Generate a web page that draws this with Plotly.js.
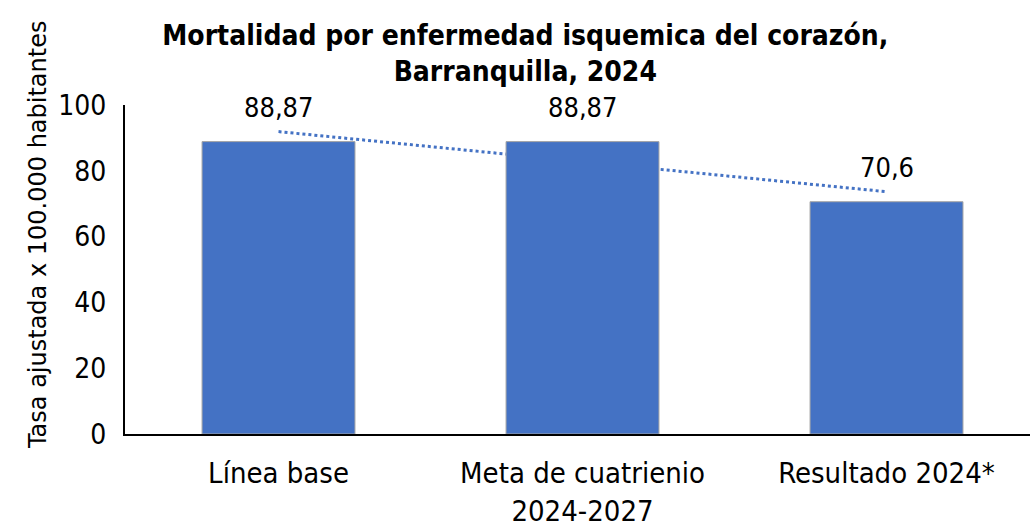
<!DOCTYPE html>
<html>
<head>
<meta charset="utf-8">
<script src="https://cdn.plot.ly/plotly-3.0.1.min.js"></script>
<style>html,body{margin:0;padding:0;background:#fff}#chart{width:1030px;height:527px}</style>
</head>
<body>
<div id="chart"></div>
<script>
var categories = ["Línea base", "Meta de cuatrienio<br>2024-2027", "Resultado 2024*"];
var values = [88.87, 88.87, 70.6];
var valueLabels = ["88,87", "88,87", "70,6"];
var yTicks = [0, 20, 40, 60, 80, 100];
var yTitle = "Tasa ajustada x 100.000 habitantes";

var FONT = "'Liberation Sans Narrow', 'DejaVu Sans Condensed', 'Liberation Sans', sans-serif";
var idx = categories.map(function (_, i) { return i; });

// Excel-style linear trendline fitted to the values
var n = values.length;
var mx = idx.reduce(function (a, b) { return a + b; }, 0) / n;
var my = values.reduce(function (a, b) { return a + b; }, 0) / n;
var sxy = 0, sxx = 0;
for (var i = 0; i < n; i++) { sxy += (idx[i] - mx) * (values[i] - my); sxx += (idx[i] - mx) * (idx[i] - mx); }
var slope = sxy / sxx, icpt = my - slope * mx;
var trendX = [idx[0], idx[n - 1]];
var trendY = trendX.map(function (x) { return icpt + slope * x; });

var trend = {
  type: 'scatter', mode: 'lines', x: trendX, y: trendY, xaxis: 'x', yaxis: 'y',
  line: { color: '#4472C4', width: 3, dash: 'dot' }, hoverinfo: 'skip', showlegend: false
};
var bars = {
  type: 'bar', x: idx, y: values, xaxis: 'x2', yaxis: 'y2',
  marker: { color: '#4472C4', line: { color: '#A5A5A5', width: 1 } },
  width: 0.503, showlegend: false
};

var annotations = idx.map(function (i) {
  return { x: i, y: values[i], xref: 'x2', yref: 'y2', text: valueLabels[i], showarrow: false,
    yanchor: 'bottom', yshift: 17, font: { family: FONT, size: 27, color: '#000' } };
});
annotations.push({ xref: 'paper', yref: 'paper', x: -0.096, y: 0.605, xanchor: 'center', yanchor: 'middle',
  text: yTitle, textangle: -90, showarrow: false,
  font: { family: "'DejaVu Sans', sans-serif", size: 24, color: '#000' } });

var XR = [-0.505, 2.472];
var xbase = { range: XR, tickvals: idx, ticktext: categories, showgrid: false, zeroline: false,
  showline: true, linecolor: '#000', linewidth: 2, ticks: '', ticklabelstandoff: 12,
  tickfont: { family: FONT, size: 29, color: '#000' }, fixedrange: true };
var ybase = { range: [0, 100], tickvals: yTicks, showgrid: false, zeroline: false, showline: true,
  linecolor: '#000', linewidth: 2, ticks: '', ticklabelstandoff: 11,
  tickfont: { family: FONT, size: 28, color: '#000' }, fixedrange: true };

var layout = {
  width: 1030, height: 527,
  margin: { l: 125, r: 0, t: 105, b: 93 },
  paper_bgcolor: '#fff', plot_bgcolor: 'rgba(0,0,0,0)',
  title: { text: '<b>Mortalidad por enfermedad isquemica del corazón,<br>Barranquilla, 2024</b>',
    x: 0.51, xanchor: 'center', y: 0.915, yanchor: 'middle',
    font: { family: FONT, size: 28, color: '#000' } },
  xaxis: Object.assign({}, xbase),
  yaxis: Object.assign({}, ybase),
  xaxis2: Object.assign({}, xbase, { overlaying: 'x', showticklabels: false, showline: false }),
  yaxis2: Object.assign({}, ybase, { overlaying: 'y', showticklabels: false, showline: false }),
  annotations: annotations,
  showlegend: false
};

Plotly.newPlot('chart', [trend, bars], layout, { displayModeBar: false, staticPlot: true });
</script>
</body>
</html>
